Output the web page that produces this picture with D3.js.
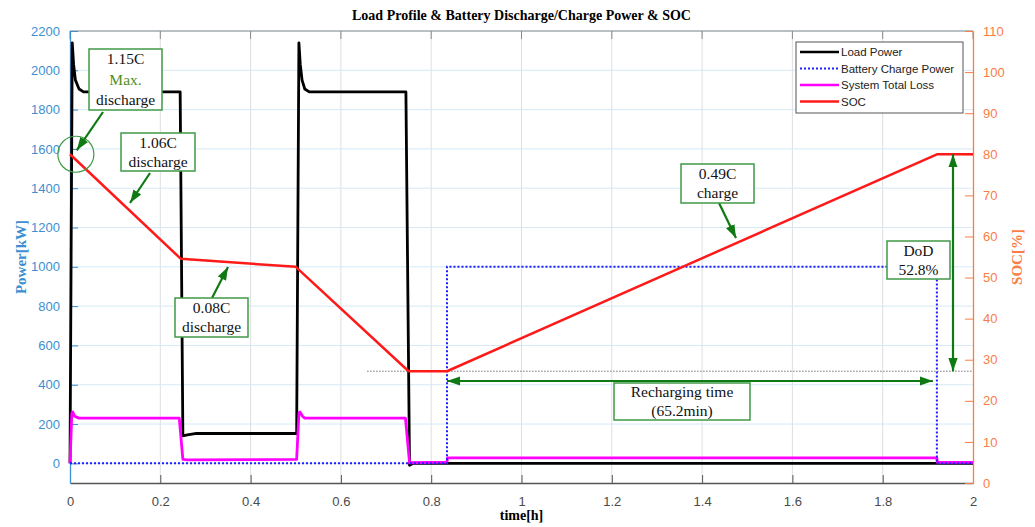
<!DOCTYPE html>
<html>
<head>
<meta charset="utf-8">
<script src="https://cdn.jsdelivr.net/npm/d3@7"></script>
<style>
  html, body { margin: 0; padding: 0; background: #fff; }
  svg { display: block; }
</style>
</head>
<body>
<svg id="chart" width="1035" height="527"></svg>
<script>
// ---- data: time [h] and values ----
const loadTime  = [0, 0.005, 0.008, 0.012, 0.02, 0.03, 0.244, 0.25, 0.26, 0.28, 0.502, 0.507, 0.510, 0.514, 0.52, 0.53, 0.744, 0.752, 0.76, 2];
const loadPower = [0, 2140, 2030, 1950, 1905, 1890, 1890, 140, 145, 152, 152, 2140, 2030, 1950, 1905, 1890, 1890, -10, 0, 0];

const lossTime  = [0, 0.004, 0.006, 0.01, 0.02, 0.242, 0.25, 0.26, 0.502, 0.507, 0.509, 0.515, 0.52, 0.743, 0.752, 0.835, 0.836, 1.92, 1.921, 2];
const lossPower = [0, 255, 262, 240, 230, 230, 20, 18, 20, 255, 262, 240, 230, 230, 3, 6, 28, 28, 5, 5];

const chargeTime  = [0, 0.835, 0.835, 1.92, 1.92, 2];
const chargePower = [0, 0, 1000, 1000, 0, 0];

const socTime = [0, 0.245, 0.5, 0.75, 0.835, 1.92, 2];
const socPct  = [80, 54.6, 52.6, 27.2, 27.2, 80, 80];

const xTicks     = [0, 0.2, 0.4, 0.6, 0.8, 1, 1.2, 1.4, 1.6, 1.8, 2];
const powerTicks = d3.range(0, 2201, 200);
const socTicks   = d3.range(0, 111, 10);

const seriesNames = ["Load Power", "Battery Charge Power", "System Total Loss", "SOC"];

const dodStart = 0.658;      // start of the dotted min-SOC reference line
const minSoc = 27.2, maxSoc = 80;
const rechargeStart = 0.835, rechargeEnd = 1.92;

// ---- layout ----
const W = 1035, H = 527;
const L = 70, R = 973, T = 31, B = 483;
const svg = d3.select("#chart");
svg.append("rect").attr("width", W).attr("height", H).attr("fill", "#fff");

const x  = d3.scaleLinear().domain([0, 2]).range([L, R]);
const yP = d3.scaleLinear().domain([-100, 2200]).range([B, T]);
const yS = d3.scaleLinear().domain([0, 110]).range([B, T]);

const blueAxis = "#3d8fd1", orangeAxis = "#fb7d45", green = "#0f7a14", boxGreen = "#3f9a46";
const sans = "Arial, 'Liberation Sans', sans-serif";
const serif = "'Times New Roman', 'Liberation Serif', serif";
const plain = d3.format("");

// grid
const grid = svg.append("g");
grid.selectAll("line.v").data(xTicks.slice(1, -1)).join("line")
  .attr("x1", d => x(d)).attr("x2", d => x(d)).attr("y1", T).attr("y2", B)
  .attr("stroke", "#dcdfe3").attr("stroke-width", 1);
grid.selectAll("line.h").data(powerTicks).join("line")
  .attr("x1", L).attr("x2", R).attr("y1", d => yP(d)).attr("y2", d => yP(d))
  .attr("stroke", "#d5e9f6").attr("stroke-width", 1);

// frame: top border with inward ticks
svg.append("line").attr("x1", L).attr("x2", R).attr("y1", T).attr("y2", T)
  .attr("stroke", "#8a8a8a").attr("stroke-width", 1.2);
svg.append("g").selectAll("line").data(xTicks).join("line")
  .attr("x1", d => x(d)).attr("x2", d => x(d)).attr("y1", T).attr("y2", T + 8)
  .attr("stroke", "#8a8a8a");

// bottom axis
const xAxis = d3.axisBottom(x).tickValues(xTicks).tickSizeInner(-8).tickSizeOuter(0).tickPadding(14)
  .tickFormat(plain);
const gx = svg.append("g").attr("transform", `translate(0,${B})`).call(xAxis);
gx.select(".domain").attr("stroke", "#555").attr("stroke-width", 1.3);
gx.selectAll(".tick line").attr("stroke", "#555");
gx.selectAll("text").attr("fill", "#4a4a4a").attr("font-family", sans).attr("font-size", 13);

// left axis
const yAxisL = d3.axisLeft(yP).tickValues(powerTicks).tickSizeInner(-8).tickSizeOuter(0).tickPadding(10)
  .tickFormat(plain);
const gl = svg.append("g").attr("transform", `translate(${L},0)`).call(yAxisL);
gl.select(".domain").attr("stroke", blueAxis).attr("stroke-width", 1.3);
gl.selectAll(".tick line").attr("stroke", blueAxis);
gl.selectAll("text").attr("fill", blueAxis).attr("font-family", sans).attr("font-size", 13);

// right axis
const yAxisR = d3.axisRight(yS).tickValues(socTicks).tickSizeInner(-8).tickSizeOuter(0).tickPadding(10)
  .tickFormat(plain);
const gr = svg.append("g").attr("transform", `translate(${R},0)`).call(yAxisR);
gr.select(".domain").attr("stroke", orangeAxis).attr("stroke-width", 1.3);
gr.selectAll(".tick line").attr("stroke", orangeAxis);
gr.selectAll("text").attr("fill", orangeAxis).attr("font-family", sans).attr("font-size", 13);

// titles
svg.append("text").attr("x", (L + R) / 2).attr("y", 20).attr("text-anchor", "middle")
  .attr("font-family", serif).attr("font-weight", "bold").attr("font-size", 14)
  .text("Load Profile & Battery Discharge/Charge Power & SOC");
svg.append("text").attr("x", (L + R) / 2).attr("y", 520).attr("text-anchor", "middle")
  .attr("font-family", serif).attr("font-weight", "bold").attr("font-size", 14)
  .text("time[h]");
svg.append("text").attr("transform", `translate(26,${(T + B) / 2}) rotate(-90)`).attr("text-anchor", "middle")
  .attr("font-family", serif).attr("font-weight", "bold").attr("font-size", 15).attr("fill", blueAxis)
  .text("Power[kW]");
svg.append("text").attr("transform", `translate(1022,${(T + B) / 2}) rotate(-90)`).attr("text-anchor", "middle")
  .attr("font-family", serif).attr("font-weight", "bold").attr("font-size", 15).attr("fill", orangeAxis)
  .text("SOC[%]");

// ---- series ----
const plot = svg.append("g");
const pts = (ts, vs) => ts.map((t, i) => [t, vs[i]]);
const lineP = d3.line().x(d => x(d[0])).y(d => yP(d[1]));
const lineS = d3.line().x(d => x(d[0])).y(d => yS(d[1]));

// min-SOC reference (dotted gray)
plot.append("line").attr("x1", x(dodStart)).attr("x2", R).attr("y1", yS(minSoc)).attr("y2", yS(minSoc))
  .attr("stroke", "#777").attr("stroke-width", 1).attr("stroke-dasharray", "1.5,1.5");

plot.append("path").attr("d", lineP(pts(loadTime, loadPower)))
  .attr("fill", "none").attr("stroke", "#000").attr("stroke-width", 2.8).attr("stroke-linejoin", "round");
plot.append("path").attr("d", lineP(pts(lossTime, lossPower)))
  .attr("fill", "none").attr("stroke", "#ff00ff").attr("stroke-width", 2.8).attr("stroke-linejoin", "round");
plot.append("path").attr("d", lineP(pts(chargeTime, chargePower)))
  .attr("fill", "none").attr("stroke", "#1f1fff").attr("stroke-width", 2).attr("stroke-dasharray", "2,2");
plot.append("path").attr("d", lineS(pts(socTime, socPct)))
  .attr("fill", "none").attr("stroke", "#ff1a1a").attr("stroke-width", 2.5).attr("stroke-linejoin", "round");

// ---- annotations ----
const defs = svg.append("defs");
defs.append("marker").attr("id", "ah").attr("viewBox", "0 0 10 10").attr("refX", 10).attr("refY", 5)
  .attr("markerWidth", 6).attr("markerHeight", 6).attr("markerUnits", "strokeWidth").attr("orient", "auto-start-reverse")
  .append("path").attr("d", "M0,1.5 L10,5 L0,8.5 Z").attr("fill", green);

const ann = svg.append("g");
function arrow(x1, y1, x2, y2, both) {
  const l = ann.append("line").attr("x1", x1).attr("y1", y1).attr("x2", x2).attr("y2", y2)
    .attr("stroke", green).attr("stroke-width", 2.2).attr("marker-end", "url(#ah)");
  if (both) l.attr("marker-start", "url(#ah)");
}
function box(x0, y0, w, h, lines) {
  ann.append("rect").attr("x", x0).attr("y", y0).attr("width", w).attr("height", h)
    .attr("fill", "#fff").attr("stroke", boxGreen).attr("stroke-width", 1.5);
  const lh = h / lines.length;
  lines.forEach((ln, i) => {
    ann.append("text").attr("x", x0 + w / 2).attr("y", y0 + lh * i + lh / 2 + 5)
      .attr("text-anchor", "middle").attr("font-family", serif).attr("font-size", 15.5)
      .attr("fill", ln.color || "#111").text(ln.text);
  });
}

// 1.15C max discharge
ann.append("circle").attr("cx", x(0.013)).attr("cy", yS(socPct[0])).attr("r", 18)
  .attr("fill", "none").attr("stroke", boxGreen).attr("stroke-width", 1.2);
arrow(103, 112, x(0.015), yS(socPct[0]) - 4);
box(89, 49, 73, 61, [{ text: "1.15C" }, { text: "Max.", color: "#4f8f1f" }, { text: "discharge" }]);

// 1.06C discharge
arrow(150, 173, 130, 203);
box(121, 133, 74, 38, [{ text: "1.06C" }, { text: "discharge" }]);

// 0.08C discharge
arrow(212, 298, 228, 267);
box(175, 298, 73, 39, [{ text: "0.08C" }, { text: "discharge" }]);

// 0.49C charge
arrow(719, 203, 736, 238);
box(681, 164, 73, 39, [{ text: "0.49C" }, { text: "charge" }]);

// DoD vertical double arrow
arrow(953, yS(maxSoc), 953, yS(minSoc), true);
box(887, 241, 63, 38, [{ text: "DoD" }, { text: "52.8%" }]);

// recharging time horizontal double arrow
arrow(x(rechargeStart), 381, x(rechargeEnd) - 4, 381, true);
box(614, 383, 136, 37, [{ text: "Recharging time" }, { text: "(65.2min)" }]);

// ---- legend ----
const lg = svg.append("g").attr("transform", "translate(796,42)");
lg.append("rect").attr("width", 167).attr("height", 71).attr("fill", "#fff").attr("stroke", "#555").attr("stroke-width", 1);
const legendStyle = [
  { c: "#000", w: 2.5, dash: null },
  { c: "#1f1fff", w: 2, dash: "2,2" },
  { c: "#ff00ff", w: 2.5, dash: null },
  { c: "#ff1a1a", w: 2.5, dash: null }
];
seriesNames.forEach((n, i) => {
  const yy = 10 + i * 16.5;
  const l = lg.append("line").attr("x1", 4).attr("x2", 43).attr("y1", yy).attr("y2", yy)
    .attr("stroke", legendStyle[i].c).attr("stroke-width", legendStyle[i].w);
  if (legendStyle[i].dash) l.attr("stroke-dasharray", legendStyle[i].dash);
  lg.append("text").attr("x", 45).attr("y", yy + 4).attr("font-family", sans).attr("font-size", 11.5)
    .attr("fill", "#222").text(n);
});
</script>
</body>
</html>
